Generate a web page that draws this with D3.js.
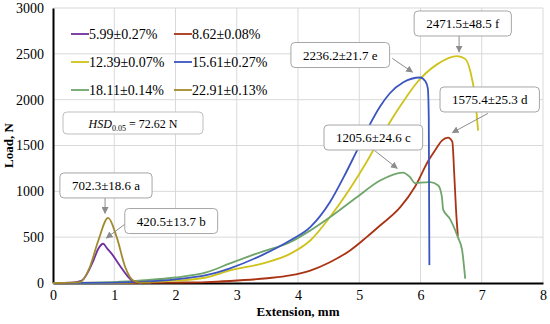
<!DOCTYPE html>
<html>
<head>
<meta charset="utf-8">
<script src="https://cdn.jsdelivr.net/npm/d3@7"></script>
<style>
  body { margin: 0; background: #fff; }
  svg text { font-family: "Liberation Serif", "DejaVu Serif", "Times New Roman", serif; }
</style>
</head>
<body>
<svg id="chart" width="550" height="324"></svg>
<script>
// ---- data ----
var xTicks = [0, 1, 2, 3, 4, 5, 6, 7, 8];
var yTicks = [0, 500, 1000, 1500, 2000, 2500, 3000];

var seriesNames = ["5.99\u00b10.27%", "8.62\u00b10.08%", "12.39\u00b10.07%", "15.61\u00b10.27%", "18.11\u00b10.14%", "22.91\u00b10.13%"];
var seriesColors = ["#7030a0", "#a93414", "#cfc21a", "#3a55c0", "#6fa56a", "#a08a2e"];

var s1x = [0, 0.3, 0.47, 0.66, 0.74, 0.82, 0.88, 0.96, 1.09, 1.23, 1.34, 1.45];
var s1y = [0, 3, 27, 245, 373, 428, 380, 318, 191, 64, 9, 4];

var s2x = [0, 1, 2, 2.5, 2.89, 3.5, 3.87, 4.2, 4.52, 4.85, 5.12, 5.34, 5.67, 5.91, 6.13, 6.25, 6.35, 6.45, 6.52, 6.55, 6.58, 6.61];
var s2y = [0, 2, 5, 10, 22, 52, 82, 136, 227, 355, 500, 627, 827, 1050, 1336, 1460, 1554, 1585, 1540, 1200, 800, 510];

var s3x = [0, 1, 1.5, 2, 2.5, 2.89, 3.43, 3.87, 4.2, 4.52, 4.85, 5.12, 5.3, 5.47, 5.61, 5.77, 5.94, 6.27, 6.6, 6.73, 6.81, 6.89, 6.94];
var s3y = [0, 3, 10, 25, 60, 137, 215, 318, 464, 718, 1030, 1320, 1530, 1720, 1870, 2030, 2185, 2385, 2475, 2445, 2318, 2027, 1663];

var s4x = [0, 1, 1.5, 2, 2.5, 2.89, 3.43, 3.87, 4.2, 4.52, 4.75, 4.93, 5.15, 5.34, 5.5, 5.72, 5.99, 6.08, 6.12, 6.135, 6.14, 6.145];
var s4y = [0, 5, 15, 40, 85, 160, 310, 464, 609, 880, 1160, 1400, 1700, 1925, 2070, 2190, 2242, 2200, 2120, 1800, 1000, 195];

var s5x = [0, 1, 1.5, 2, 2.5, 2.89, 3.43, 3.87, 4.2, 4.52, 4.96, 5.34, 5.71, 5.83, 5.91, 6.0, 6.16, 6.29, 6.35, 6.37, 6.48, 6.61, 6.68, 6.73];
var s5y = [0, 10, 30, 60, 115, 214, 346, 445, 573, 718, 936, 1118, 1205, 1154, 1089, 1095, 1100, 1064, 937, 800, 700, 500, 355, 46];

var s6x = [0, 0.3, 0.44, 0.6, 0.74, 0.9, 1.04, 1.18, 1.31, 1.42, 1.6];
var s6y = [0, 4, 9, 172, 464, 711, 500, 172, 27, 5, 3];

// annotation labels: box centre, arrow start and arrow tip in data units
var noteText = ["2471.5\u00b148.5 f", "2236.2\u00b121.7 e", "1575.4\u00b125.3 d", "1205.6\u00b124.6 c", "702.3\u00b118.6 a", "420.5\u00b113.7 b"];
var noteBoxX = [6.69, 4.69, 7.13, 5.23, 0.865, 1.93];
var noteBoxY = [2831, 2487, 2002, 1587, 1064, 676];
var noteFromX = [6.63, 5.54, 7.1, 5.25, 0.85, 1.17];
var noteFromY = [2700, 2450, 1850, 1445, 935, 640];
var noteTipX = [6.63, 5.87, 6.52, 5.62, 0.85, 0.87];
var noteTipY = [2520, 2300, 1640, 1250, 760, 490];

var hsdValue = "72.62 N";

// ---- layout ----
var svg = d3.select("#chart");
var margin = { top: 8, right: 7, bottom: 41, left: 53 };
var width = 550 - margin.left - margin.right;
var height = 324 - margin.top - margin.bottom;

var x = d3.scaleLinear().domain([0, 8]).range([0, width]);
var y = d3.scaleLinear().domain([0, 3000]).range([height, 0]);

var g = svg.append("g").attr("transform", `translate(${margin.left},${margin.top})`);

// grid
g.append("g").selectAll("line").data(xTicks.slice(1)).enter().append("line")
    .attr("x1", d => x(d)).attr("x2", d => x(d))
    .attr("y1", 0).attr("y2", height)
    .attr("stroke", "#d9d9d9").attr("stroke-width", 1);
g.append("g").selectAll("line").data(yTicks.slice(1)).enter().append("line")
    .attr("x1", 0).attr("x2", width)
    .attr("y1", d => y(d)).attr("y2", d => y(d))
    .attr("stroke", "#d9d9d9").attr("stroke-width", 1);

// axes
var xAxis = g.append("g").attr("transform", `translate(0,${height})`)
    .call(d3.axisBottom(x).tickValues(xTicks).tickFormat(d3.format("d")).tickSize(0).tickPadding(7));
var yAxis = g.append("g")
    .call(d3.axisLeft(y).tickValues(yTicks).tickFormat(d3.format("d")).tickSize(0).tickPadding(9));
[xAxis, yAxis].forEach(function(a) {
    a.attr("font-family", null);
    a.select(".domain").attr("stroke", "#000").attr("stroke-width", 2);
    a.selectAll("text").attr("font-size", 14).attr("fill", "#000");
});

svg.append("text")
    .attr("x", margin.left + width / 2).attr("y", 316)
    .attr("text-anchor", "middle").attr("font-weight", "bold").attr("font-size", 13)
    .text("Extension, mm");
svg.append("text")
    .attr("transform", `translate(13,${margin.top + height / 2}) rotate(-90)`)
    .attr("text-anchor", "middle").attr("font-weight", "bold").attr("font-size", 13)
    .text("Load, N");

// curves
var allX = [s1x, s2x, s3x, s4x, s5x, s6x];
var allY = [s1y, s2y, s3y, s4y, s5y, s6y];
var line = d3.line()
    .x(d => x(d[0])).y(d => y(d[1]))
    .curve(d3.curveMonotoneX);
var drawOrder = [1, 2, 4, 3, 0, 5];
drawOrder.forEach(function(i) {
    var pts = allX[i].map((v, k) => [v, allY[i][k]]);
    g.append("path")
        .datum(pts)
        .attr("d", line)
        .attr("fill", "none")
        .attr("stroke", seriesColors[i])
        .attr("stroke-width", 1.8);
});

// legend
var legX = [71, 174];
var legY = [34, 62, 90];
var leg = svg.append("g");
seriesNames.forEach(function(name, i) {
    var col = i % 2, row = Math.floor(i / 2);
    var lx = legX[col], ly = legY[row];
    leg.append("line")
        .attr("x1", lx).attr("x2", lx + 18)
        .attr("y1", ly).attr("y2", ly)
        .attr("stroke", seriesColors[i]).attr("stroke-width", 1.8);
    leg.append("text")
        .attr("x", lx + 18).attr("y", ly + 5)
        .attr("font-size", 14)
        .text(name);
});

// HSD box
var hsd = svg.append("g");
hsd.append("rect")
    .attr("x", 63).attr("y", 112).attr("width", 140).attr("height", 22)
    .attr("rx", 4).attr("fill", "#fff").attr("stroke", "#bfbfbf");
var ht = hsd.append("text").attr("x", 133).attr("y", 127.5)
    .attr("text-anchor", "middle").attr("font-size", 12);
ht.append("tspan").attr("font-style", "italic").text("HSD");
ht.append("tspan").attr("font-size", 8).attr("dy", 3).text("0.05");
ht.append("tspan").attr("dy", -3).text(" = " + hsdValue);

// arrow marker
svg.append("defs").append("marker")
    .attr("id", "arr").attr("viewBox", "0 0 10 10")
    .attr("refX", 9).attr("refY", 5)
    .attr("markerWidth", 7).attr("markerHeight", 7)
    .attr("markerUnits", "userSpaceOnUse")
    .attr("orient", "auto")
    .append("path").attr("d", "M0,0L10,5L0,10z").attr("fill", "#8c8c8c");

// annotations
noteText.forEach(function(t, i) {
    g.append("line")
        .attr("x1", x(noteFromX[i])).attr("y1", y(noteFromY[i]))
        .attr("x2", x(noteTipX[i])).attr("y2", y(noteTipY[i]))
        .attr("stroke", "#8c8c8c").attr("stroke-width", 1)
        .attr("marker-end", "url(#arr)");
    var bx = x(noteBoxX[i]), by = y(noteBoxY[i]);
    var box = g.append("g");
    var rect = box.append("rect").attr("fill", "#fff").attr("stroke", "#a6a6a6").attr("rx", 4);
    var txt = box.append("text")
        .attr("x", bx).attr("y", by + 4.5)
        .attr("text-anchor", "middle").attr("font-size", 13)
        .text(t);
    var w = txt.node().getComputedTextLength() + 24;
    var h = 25;
    rect.attr("x", bx - w / 2).attr("y", by - h / 2).attr("width", w).attr("height", h);
});
</script>
</body>
</html>
